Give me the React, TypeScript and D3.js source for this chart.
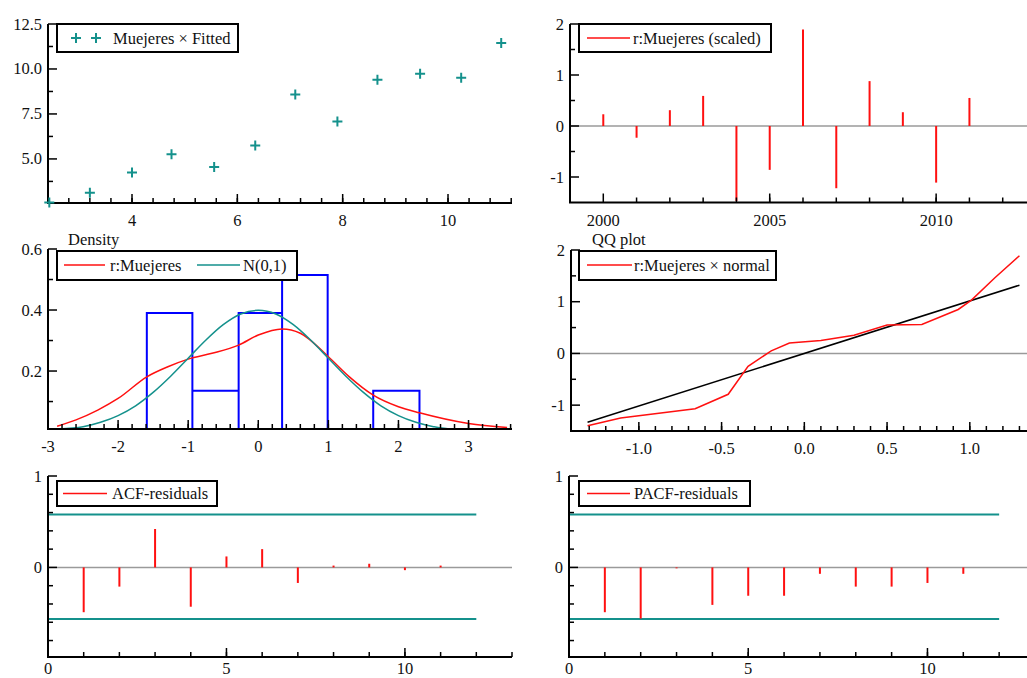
import React from 'react';
import * as d3 from 'd3';

const W = 1027;
const H = 678;
const FONT = '"Liberation Serif", "Times New Roman", serif';
const RED = '#ff1010';
const TEAL = '#14918c';
const BLUE = '#0000ff';
const GREY = '#9a9a9a';

// panel 1: Muejeres x Fitted
const fittedVals = [2.43, 3.2, 4.0, 4.75, 5.56, 6.34, 7.1, 7.9, 8.66, 9.47, 10.25, 11.01];
const muejeresVals = [2.58, 3.12, 4.24, 5.26, 4.55, 5.74, 8.58, 7.08, 9.4, 9.73, 9.51, 11.44];

// panel 2: scaled residuals by year
const years = [2000, 2001, 2002, 2003, 2004, 2005, 2006, 2007, 2008, 2009, 2010, 2011];
const scaledRes = [0.23, -0.23, 0.31, 0.59, -1.47, -0.86, 1.89, -1.22, 0.88, 0.27, -1.11, 0.55];

// panel 3: density
const binEdges = [-1.59, -0.94, -0.28, 0.34, 0.99, 1.64, 2.3];
const binDensity = [0.39, 0.135, 0.39, 0.515, 0, 0.135];
const kdeX = [-2.87, -2.6, -2.29, -2, -1.59, -1.29, -1, -0.66, -0.28, 0, 0.34, 0.6, 1, 1.3, 1.64, 2, 2.3, 3, 3.55];
const kdeY = [0.019, 0.04, 0.072, 0.11, 0.181, 0.214, 0.239, 0.258, 0.285, 0.318, 0.338, 0.324, 0.247, 0.181, 0.121, 0.083, 0.063, 0.028, 0.015];
const normX = [-2.85, -2.5, -2.25, -2, -1.75, -1.5, -1.25, -1, -0.75, -0.5, -0.25, 0, 0.25, 0.5, 0.75, 1, 1.25, 1.5, 1.75, 2, 2.25, 2.5, 2.75, 3, 3.25, 3.55];
const normY = [0.007, 0.0175, 0.032, 0.054, 0.086, 0.13, 0.183, 0.242, 0.301, 0.352, 0.387, 0.399, 0.387, 0.352, 0.301, 0.242, 0.183, 0.13, 0.086, 0.054, 0.032, 0.0175, 0.009, 0.0044, 0.002, 0.0007];

// panel 4: QQ plot
const qqX = [-1.31, -1.11, -0.66, -0.46, -0.34, -0.2, -0.09, 0.1, 0.3, 0.5, 0.71, 0.93, 1.01, 1.15, 1.3];
const qqY = [-1.4, -1.25, -1.07, -0.79, -0.25, 0.05, 0.2, 0.25, 0.35, 0.55, 0.56, 0.85, 1.03, 1.46, 1.89];
const refX = [-1.31, 1.3];
const refY = [-1.33, 1.32];

// panels 5-6: correlograms
const lags = [1, 2, 3, 4, 5, 6, 7, 8, 9, 10, 11];
const acfVals = [-0.49, -0.21, 0.42, -0.43, 0.12, 0.2, -0.17, 0.02, 0.04, -0.03, 0.02];
const pacfVals = [-0.49, -0.56, -0.01, -0.41, -0.31, -0.31, -0.07, -0.21, -0.21, -0.17, -0.07];
const bandUp = 0.578;
const bandLo = -0.563;
const bandEnd = 12;

const Frame = ({ x, y, xMajor, xMinor, yMajor, yMinor, fx = (v) => String(v), fy = (v) => String(v), gap = 23 }) => {
  const [x0, x1] = x.range();
  const [y0, y1] = y.range();
  return (
    <g fontFamily={FONT} fontSize={16.5} fill="#111">
      {xMinor.map((v, i) => (
        <line key={'a' + i} x1={x(v)} x2={x(v)} y1={y0} y2={y0 - 5} stroke="#000" strokeWidth={1.5} />
      ))}
      {xMajor.map((v, i) => (
        <g key={'b' + i}>
          <line x1={x(v)} x2={x(v)} y1={y0} y2={y0 - 9} stroke="#000" strokeWidth={1.5} />
          <text x={x(v)} y={y0 + gap} textAnchor="middle">{fx(v)}</text>
        </g>
      ))}
      {yMinor.map((v, i) => (
        <line key={'c' + i} x1={x0} x2={x0 + 5} y1={y(v)} y2={y(v)} stroke="#000" strokeWidth={1.5} />
      ))}
      {yMajor.map((v, i) => (
        <g key={'d' + i}>
          <line x1={x0} x2={x0 + 9} y1={y(v)} y2={y(v)} stroke="#000" strokeWidth={1.5} />
          <text x={x0 - 6} y={y(v)} textAnchor="end" dominantBaseline="central">{fy(v)}</text>
        </g>
      ))}
      <path d={`M${x0},${y1}V${y0}H${x1}`} fill="none" stroke="#000" strokeWidth={2} />
    </g>
  );
};

const Legend = ({ x, y, w, h, children }) => (
  <g>
    <rect x={x} y={y} width={w} height={h} fill="#fff" stroke="#000" strokeWidth={2} />
    {children}
  </g>
);

const LegText = ({ x, y, children }) => (
  <text x={x} y={y} fontFamily={FONT} fontSize={16.5} fill="#111" dominantBaseline="central">{children}</text>
);

const App = () => {
  // panel 1
  const x1 = d3.scaleLinear().domain([2.405, 11.215]).range([48, 512]);
  const y1 = d3.scaleLinear().domain([2.55, 12.5]).range([203, 24]);
  // panel 2
  const x2 = d3.scaleLinear().domain([1999, 2013]).range([570, 1036]);
  const y2 = d3.scaleLinear().domain([-1.5, 2]).range([202.5, 24]);
  // panel 3
  const x3 = d3.scaleLinear().domain([-3, 3.62]).range([48, 512]);
  const y3 = d3.scaleLinear().domain([0.01, 0.6]).range([429, 249]).clamp(true);
  // panel 4
  const x4 = d3.scaleLinear().domain([-1.41, 1.4]).range([571, 1036]);
  const y4 = d3.scaleLinear().domain([-1.5, 2]).range([431, 250]);
  // panels 5, 6
  const x5 = d3.scaleLinear().domain([0, 13]).range([48, 512]);
  const x6 = d3.scaleLinear().domain([0, 13]).range([569, 1035]);
  const y5 = d3.scaleLinear().domain([-0.98, 1]).range([657, 476]);

  const plus = 'M-5,0H5M0,-5V5';
  const kdeLine = d3.line().x((d) => x3(d[0])).y((d) => y3(d[1])).curve(d3.curveMonotoneX);
  const qqLine = d3.line().x((d) => x4(d[0])).y((d) => y4(d[1]));

  const binPath = binDensity
    .map((v, i) => (v > 0 ? `M${x3(binEdges[i])},${y3(0)}V${y3(v)}H${x3(binEdges[i + 1])}V${y3(0)}` : ''))
    .join('');

  const correlogram = (xs, vals) => (
    <g>
      <line x1={xs(0)} x2={xs.range()[1]} y1={y5(0)} y2={y5(0)} stroke={GREY} strokeWidth={1.5} />
      <line x1={xs(0)} x2={xs(bandEnd)} y1={y5(bandUp)} y2={y5(bandUp)} stroke={TEAL} strokeWidth={2} />
      <line x1={xs(0)} x2={xs(bandEnd)} y1={y5(bandLo)} y2={y5(bandLo)} stroke={TEAL} strokeWidth={2} />
      {lags.map((l, i) => (
        <line key={l} x1={xs(l)} x2={xs(l)} y1={y5(0)} y2={y5(vals[i])} stroke={RED} strokeWidth={2} />
      ))}
    </g>
  );

  const corrMinor = [-0.8, -0.6, -0.4, -0.2, 0.2, 0.4, 0.6, 0.8];

  return (
    <svg width={W} height={H} style={{ position: 'absolute', left: 0, top: 0, background: '#fff' }}>
      {/* panel 1 */}
      <Frame
        x={x1}
        y={y1}
        xMajor={[4, 6, 8, 10]}
        xMinor={d3.range(2.8, 11.3, 0.4)}
        yMajor={[5, 7.5, 10, 12.5]}
        yMinor={[3.75, 6.25, 8.75, 11.25]}
        fy={(v) => v.toFixed(1)}
      />
      {fittedVals.map((f, i) => (
        <path key={i} d={plus} transform={`translate(${x1(f)},${y1(muejeresVals[i])})`} stroke={TEAL} strokeWidth={2} fill="none" />
      ))}
      <Legend x={57} y={24} w={181} h={28}>
        <path d={plus} transform="translate(76,38)" stroke={TEAL} strokeWidth={2} />
        <path d={plus} transform="translate(96,38)" stroke={TEAL} strokeWidth={2} />
        <LegText x={113} y={38}>Muejeres × Fitted</LegText>
      </Legend>

      {/* panel 2 */}
      <line x1={x2(1999)} x2={W} y1={y2(0)} y2={y2(0)} stroke={GREY} strokeWidth={1.5} />
      {years.map((yr, i) => (
        <line key={yr} x1={x2(yr)} x2={x2(yr)} y1={y2(0)} y2={y2(scaledRes[i])} stroke={RED} strokeWidth={2} />
      ))}
      <Frame
        x={x2}
        y={y2}
        xMajor={[2000, 2005, 2010]}
        xMinor={d3.range(2001, 2013, 1)}
        yMajor={[-1, 0, 1, 2]}
        yMinor={[-0.5, 0.5, 1.5]}
      />
      <Legend x={579} y={24} w={192} h={28}>
        <line x1={587} x2={630} y1={38} y2={38} stroke={RED} strokeWidth={1.5} />
        <LegText x={633} y={38}>r:Muejeres (scaled)</LegText>
      </Legend>

      {/* panel 3 */}
      <text x={68} y={245} fontFamily={FONT} fontSize={16.5} fill="#111">Density</text>
      <path d={binPath} fill="none" stroke={BLUE} strokeWidth={2} />
      <path d={kdeLine(kdeX.map((v, i) => [v, kdeY[i]]))} fill="none" stroke={RED} strokeWidth={1.5} />
      <path d={kdeLine(normX.map((v, i) => [v, normY[i]]))} fill="none" stroke={TEAL} strokeWidth={1.5} />
      <Frame
        x={x3}
        y={y3}
        xMajor={[-3, -2, -1, 0, 1, 2, 3]}
        xMinor={d3.range(-2.8, 3.65, 0.2)}
        yMajor={[0.2, 0.4, 0.6]}
        yMinor={[0.1, 0.3, 0.5]}
        fy={(v) => v.toFixed(1)}
      />
      <Legend x={57} y={251} w={240} h={29}>
        <line x1={64} x2={105} y1={265} y2={265} stroke={RED} strokeWidth={1.5} />
        <LegText x={110} y={265}>r:Muejeres</LegText>
        <line x1={197} x2={240} y1={265} y2={265} stroke={TEAL} strokeWidth={1.5} />
        <LegText x={243} y={265}>N(0,1)</LegText>
      </Legend>

      {/* panel 4 */}
      <text x={592} y={245} fontFamily={FONT} fontSize={16.5} fill="#111">QQ plot</text>
      <line x1={x4(-1.41)} x2={W} y1={y4(0)} y2={y4(0)} stroke={GREY} strokeWidth={1.5} />
      <path d={qqLine(refX.map((v, i) => [v, refY[i]]))} fill="none" stroke="#000" strokeWidth={1.5} />
      <path d={qqLine(qqX.map((v, i) => [v, qqY[i]]))} fill="none" stroke={RED} strokeWidth={1.5} />
      <Frame
        x={x4}
        y={y4}
        xMajor={[-1, -0.5, 0, 0.5, 1]}
        xMinor={d3.range(-1.3, 1.35, 0.1)}
        yMajor={[-1, 0, 1, 2]}
        yMinor={[-0.5, 0.5, 1.5]}
        fx={(v) => v.toFixed(1)}
      />
      <Legend x={579} y={251} w={197} h={29}>
        <line x1={587} x2={632} y1={265} y2={265} stroke={RED} strokeWidth={1.5} />
        <LegText x={634} y={265}>r:Muejeres × normal</LegText>
      </Legend>

      {/* panel 5 */}
      {correlogram(x5, acfVals)}
      <Frame x={x5} y={y5} xMajor={[0, 5, 10]} xMinor={d3.range(1, 14, 1)} yMajor={[0, 1]} yMinor={corrMinor} gap={17} />
      <Legend x={57} y={481} w={160} h={25}>
        <line x1={63} x2={107} y1={493.5} y2={493.5} stroke={RED} strokeWidth={1.5} />
        <LegText x={112} y={493.5}>ACF-residuals</LegText>
      </Legend>

      {/* panel 6 */}
      {correlogram(x6, pacfVals)}
      <Frame x={x6} y={y5} xMajor={[0, 5, 10]} xMinor={d3.range(1, 14, 1)} yMajor={[0, 1]} yMinor={corrMinor} gap={17} />
      <Legend x={579} y={481} w={171} h={25}>
        <line x1={587} x2={630} y1={493.5} y2={493.5} stroke={RED} strokeWidth={1.5} />
        <LegText x={634} y={493.5}>PACF-residuals</LegText>
      </Legend>
    </svg>
  );
};

export default App;
